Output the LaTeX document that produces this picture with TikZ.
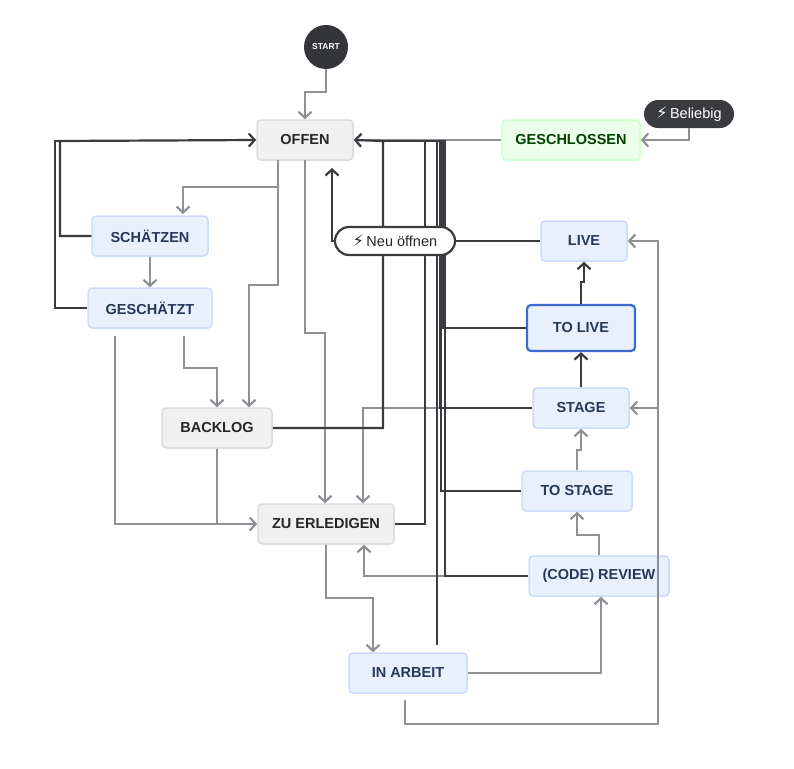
\documentclass[tikz,border=0pt]{standalone}
\usepackage{fontspec}
\setmainfont{Liberation Sans}
\newfontfamily\djv{DejaVu Sans}
\usetikzlibrary{arrows.meta}
\definecolor{dk}{HTML}{3A3B3F}
\definecolor{gr}{HTML}{8F9095}
\definecolor{bluefill}{HTML}{E9F0FD}
\definecolor{blueline}{HTML}{CDDCF8}
\definecolor{bluetext}{HTML}{253858}
\definecolor{bluesel}{HTML}{3B6BD1}
\definecolor{greyfill}{HTML}{F0F0F1}
\definecolor{greyline}{HTML}{DCDCDF}
\newcommand\zap{{\djv\fontsize{16}{16}\selectfont ⚡}\,}

\begin{document}
\begin{tikzpicture}[x=1pt,y=-1pt,
    font=\fontsize{14.5}{16}\selectfont\bfseries,
    st/.style={draw=greyline,fill=greyfill,rounded corners=4pt,line width=1.5pt,
        minimum height=40pt,text=black!85},
    bs/.style={st,draw=blueline,fill=bluefill,text=bluetext},
    pill/.style={rounded corners=14pt,minimum height=28pt,font=\fontsize{14.5}{16}\selectfont},
    ga/.style={draw=gr,line width=2.2pt,-{Straight Barb[length=6pt,width=13pt]}},
    da/.style={ga,draw=dk},
    gl/.style={draw=gr,line width=2.2pt},
    dl/.style={draw=dk,line width=2.2pt}]
\useasboundingbox (0,0) rectangle (794,768);

\node (start) [circle,fill=dk!90!black,minimum size=44pt,text=white,inner sep=0pt,
    font=\fontsize{8.5}{9}\selectfont\bfseries] at (326,47) {START};
\node (of) [st,minimum width=96pt] at (305,140) {OFFEN};
\node (gs) [st,draw=green!20,fill=green!8,text=green!25!black,minimum width=138pt]
    at (571,140) {GESCHLOSSEN};
\node (bl) [pill,fill=dk,text=white,minimum width=90pt,inner sep=2pt] at (689,114) {\zap Beliebig};
\node (sc) [bs,minimum width=116pt] at (150,236) {SCHÄTZEN};
\node (ge) [bs,minimum width=124pt] at (150,308) {GESCHÄTZT};
\node (bk) [st,minimum width=110pt] at (217,428) {BACKLOG};
\node (ze) [st,minimum width=136pt] at (326,524) {ZU ERLEDIGEN};
\node (ia) [bs,minimum width=118pt] at (408,673) {IN ARBEIT};
\node (lv) [bs,minimum width=86pt] at (584,241) {LIVE};
\node (tl) [bs,draw=bluesel,line width=2.2pt,minimum width=108pt,minimum height=46pt]
    at (581,328) {TO LIVE};
\node (sg) [bs,minimum width=96pt] at (581,408) {STAGE};
\node (ts) [bs,minimum width=110pt] at (577,491) {TO STAGE};
\node (cr) [bs,minimum width=140pt] at (599,576) {(CODE) REVIEW};

% grey transitions
\draw[ga] (start.south) |- (305,92) -- (of.north);
\draw[gl] (gs.west) -- (355,140);
\draw[ga] (bl.south) |- (gs.east);
\draw[ga] (278,160) |- (183,187) -- (183,214);
\draw[ga] (278,187) |- (249,285) -- (bk.north -| 249,0);
\draw[ga] (305,160) |- (325,333) -- (ze.north -| 325,0);
\draw[ga] (sc.south) -- (ge.north);
\draw[ga] (184,336) |- (217,368) -- (bk.north);
\draw[ga] (115,336) |- (ze.west);
\draw[gl] (bk.south) -- (217,524);
\draw[ga] (sg.west) -| (363,498) -- (ze.north -| 363,0);
\draw[ga] (cr.west) -| (ze.south -| 364,0);
\draw[ga] (ze.south) |- (373,598) -- (ia.north -| 373,0);
\draw[ga] (ia.east) -| (cr.south -| 601,0);
\draw[ga] (405,700) |- (658,724) |- (lv.east);
\draw[ga] (658,408) -- (sg.east);
\draw[ga] (cr.north -| 599,0) |- (577,535) -- (ts.south -| 577,0);
\draw[ga] (ts.north) |- (581,450) -- (sg.south);

% dark transitions
\draw[da] (sc.west) -| (60,141) -- (of.west);
\draw[dl] (ge.west) -| (55,141) -- (60,141);
\draw[da] (bk.east) -| (383,141) -- (of.east);
\draw[dl] (ze.east) -| (425,141);
\draw[dl] (tl.west) -| (443,141) -- (383,141);
\draw[dl] (sg.west) -| (440,141);
\draw[dl] (ts.west) -| (441,141);
\draw[dl] (cr.west) -| (445,141) -- (443,141);
\draw[dl] (437,645) -- (437,141);
\draw[da] (tl.north) |- (584,282) -- (lv.south);
\draw[da] (sg.north) -- (tl.south);
\node (no) [pill,draw=dk,line width=2.2pt,fill=white,minimum width=120pt,text=black!85,
    inner sep=2pt] at (395,241) {\zap Neu öffnen};
\draw[dl] (lv.west) -- (no.east);
\draw[da] (no.west) -| (332,168);
\end{tikzpicture}
\end{document}
